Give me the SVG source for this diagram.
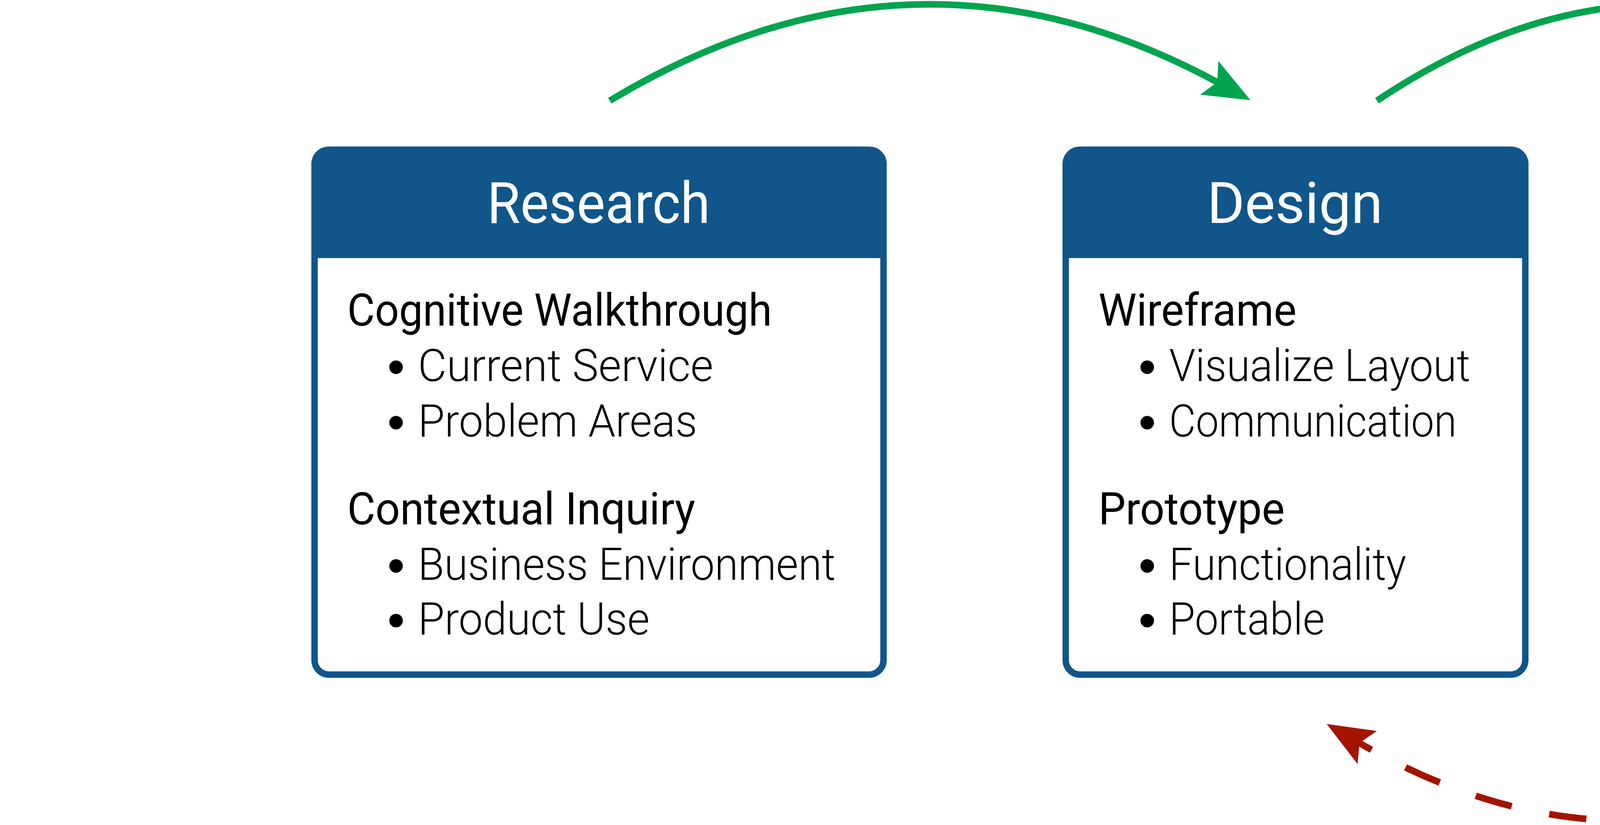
<svg xmlns="http://www.w3.org/2000/svg" width="6722" height="2113" viewBox="0 0 6722 2113">
<style>
.bg{fill:#ffffff}
.box{fill:#ffffff;stroke:#10568A;stroke-width:16.5}
.hdr{fill:#10568A}
text{font-family:Roboto,"Liberation Sans",sans-serif;fill:#000000}
.title{font-size:146px;fill:#ffffff;font-weight:400}
.sub{font-size:115px;font-weight:400}
.item{font-size:115px;font-weight:300}
.dot{font-family:"Liberation Sans",sans-serif;font-size:128px;font-weight:400}
.fwd{fill:none;stroke:#00A44F;stroke-width:17}
.back{fill:none;stroke:#A31400;stroke-width:17;stroke-dasharray:96 98;stroke-dashoffset:47}
</style>
<defs>
<marker id="headG" markerUnits="userSpaceOnUse" orient="auto" viewBox="-30 -55 130 110" refX="0" refY="0" markerWidth="130" markerHeight="110" overflow="visible">
<path d="M97,0 L-23,-49 L0,0 L-23,49 Z" fill="#00A44F"/>
</marker>
<marker id="headR" markerUnits="userSpaceOnUse" orient="auto" viewBox="-30 -55 130 110" refX="0" refY="0" markerWidth="130" markerHeight="110" overflow="visible">
<path d="M97,0 L-23,-49 L0,0 L-23,49 Z" fill="#A31400"/>
</marker>
</defs>
<rect class="bg" x="0" y="0" width="6722" height="2113"/>

<g id="connectors">
<path id="research-to-design" class="fwd" d="M1561,258 Q2338.5,-210.95 3116,210.4" marker-end="url(#headG)"/>
<path id="design-to-evaluate" class="fwd" d="M3525,258 Q4220.7,-209 4916.5,206.9" marker-end="url(#headG)"/>
<path id="evaluate-to-design" class="back" d="M4933,1853 Q4206.7,2324.6 3480.2,1903" marker-end="url(#headR)"/>
</g>

<g id="research">
<rect class="box" x="805.25" y="383.75" width="1456.5" height="1344" rx="37"/>
<path class="hdr" d="M797,661 V419.5 A44,44 0 0 1 841,375.5 H2226 A44,44 0 0 1 2270,419.5 V661 Z"/>
<text class="title" x="1247" y="570.5" textLength="571" lengthAdjust="spacingAndGlyphs">Research</text>
<text class="sub" x="889" y="834" textLength="1087" lengthAdjust="spacingAndGlyphs">Cognitive Walkthrough</text>
<text class="item"><tspan class="dot" x="991.6" y="983">•</tspan><tspan x="1070" y="976" textLength="756" lengthAdjust="spacingAndGlyphs">Current Service</tspan></text>
<text class="item"><tspan class="dot" x="991.6" y="1124.5">•</tspan><tspan x="1070" y="1117.5" textLength="715" lengthAdjust="spacingAndGlyphs">Problem Areas</tspan></text>
<text class="sub" x="889" y="1343" textLength="891" lengthAdjust="spacingAndGlyphs">Contextual Inquiry</text>
<text class="item"><tspan class="dot" x="991.6" y="1491.5">•</tspan><tspan x="1070" y="1484.5" textLength="1069" lengthAdjust="spacingAndGlyphs">Business Environment</tspan></text>
<text class="item"><tspan class="dot" x="991.6" y="1632">•</tspan><tspan x="1070" y="1625" textLength="593" lengthAdjust="spacingAndGlyphs">Product Use</tspan></text>
</g>

<g id="design">
<rect class="box" x="2728.25" y="383.75" width="1176.5" height="1344" rx="37"/>
<path class="hdr" d="M2720,661 V419.5 A44,44 0 0 1 2764,375.5 H3869 A44,44 0 0 1 3913,419.5 V661 Z"/>
<text class="title" x="3090" y="570.5" textLength="450" lengthAdjust="spacingAndGlyphs">Design</text>
<text class="sub" x="2812" y="834" textLength="507" lengthAdjust="spacingAndGlyphs">Wireframe</text>
<text class="item"><tspan class="dot" x="2914.6" y="983">•</tspan><tspan x="2993" y="976" textLength="771" lengthAdjust="spacingAndGlyphs">Visualize Layout</tspan></text>
<text class="item"><tspan class="dot" x="2914.6" y="1124.5">•</tspan><tspan x="2993" y="1117.5" textLength="736" lengthAdjust="spacingAndGlyphs">Communication</tspan></text>
<text class="sub" x="2812" y="1343" textLength="477" lengthAdjust="spacingAndGlyphs">Prototype</text>
<text class="item"><tspan class="dot" x="2914.6" y="1491.5">•</tspan><tspan x="2993" y="1484.5" textLength="607" lengthAdjust="spacingAndGlyphs">Functionality</tspan></text>
<text class="item"><tspan class="dot" x="2914.6" y="1632">•</tspan><tspan x="2993" y="1625" textLength="398" lengthAdjust="spacingAndGlyphs">Portable</tspan></text>
</g>

<g id="evaluate">
<rect class="box" x="4370.25" y="383.75" width="1546.5" height="1344" rx="37"/>
<path class="hdr" d="M4362,661 V419.5 A44,44 0 0 1 4406,375.5 H5881 A44,44 0 0 1 5925,419.5 V661 Z"/>
<text class="title" x="4834" y="570.5" textLength="528" lengthAdjust="spacingAndGlyphs">Evaluate</text>
<text class="sub" x="4454" y="834" textLength="771" lengthAdjust="spacingAndGlyphs">Usibility Testing</text>
<text class="item"><tspan class="dot" x="4556.6" y="983">•</tspan><tspan x="4635" y="976" textLength="787" lengthAdjust="spacingAndGlyphs">Added Research</tspan></text>
<text class="item"><tspan class="dot" x="4556.6" y="1124.5">•</tspan><tspan x="4635" y="1117.5" textLength="662" lengthAdjust="spacingAndGlyphs">Refine Design</tspan></text>
<text class="sub" x="4454" y="1343" textLength="613" lengthAdjust="spacingAndGlyphs">User Survey</text>
<text class="item"><tspan class="dot" x="4556.6" y="1491.5">•</tspan><tspan x="4635" y="1484.5" textLength="800" lengthAdjust="spacingAndGlyphs">Set Expectations</tspan></text>
<text class="item"><tspan class="dot" x="4556.6" y="1632">•</tspan><tspan x="4635" y="1625" textLength="764" lengthAdjust="spacingAndGlyphs">Broad Audience</tspan></text>
</g>
</svg>
